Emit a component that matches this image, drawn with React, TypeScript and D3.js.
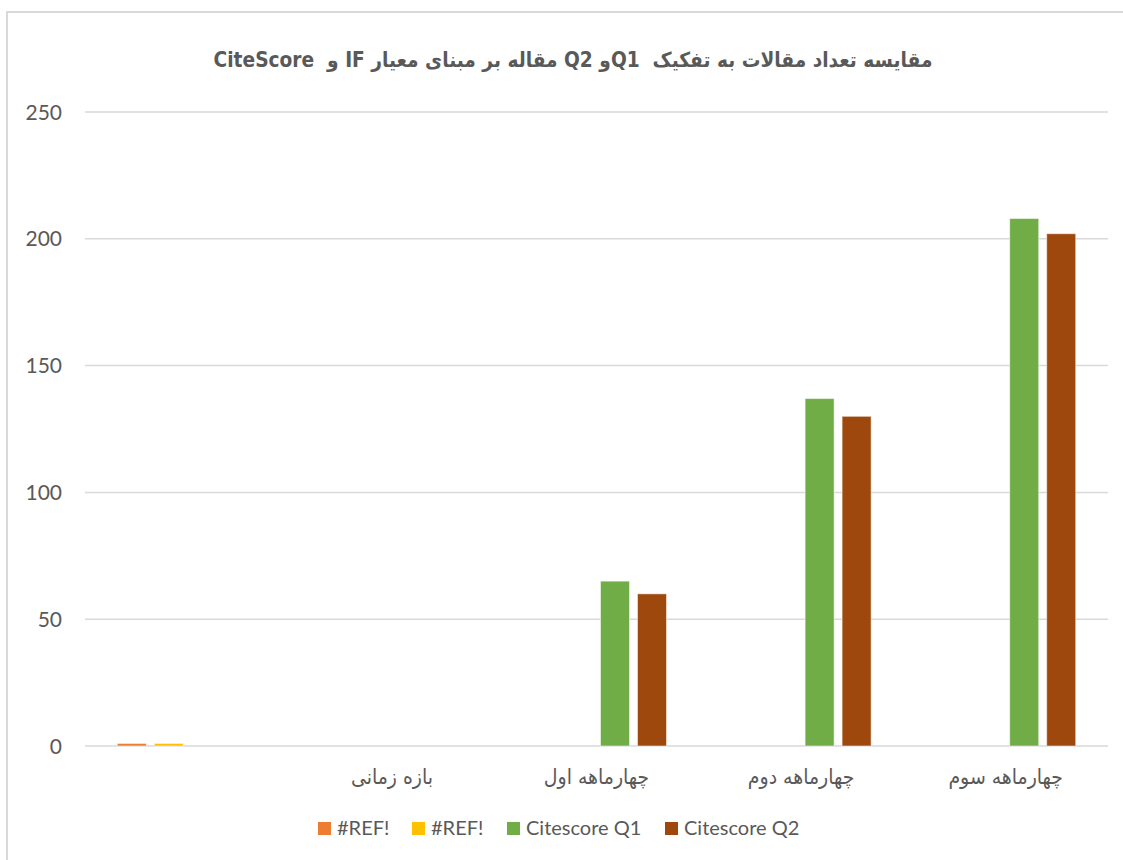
import React from "react";
import * as d3 from "d3";

const categories = ["", "بازه زمانی", "چهارماهه اول", "چهارماهه دوم", "چهارماهه سوم"];
const seriesNames = ["#REF!", "#REF! ", "Citescore Q1", "Citescore Q2"];
const legendLabels = ["#REF!", "#REF!", "Citescore Q1", "Citescore Q2"];
const ref1Values = [1, 0, 0, 0, 0];
const ref2Values = [1, 0, 0, 0, 0];
const q1Values = [0, 0, 65, 137, 208];
const q2Values = [0, 0, 60, 130, 202];
const yTicks = [0, 50, 100, 150, 200, 250];
const colors = ["#ED7D31", "#FFC000", "#70AD47", "#9E480E"];
const title = "مقایسه تعداد مقالات به تفکیک  Q1و Q2 مقاله بر مبنای معیار IF و  CiteScore";

const W = 1123;
const H = 860;
const plot = { left: 85, right: 1108, top: 112, bottom: 746 };

export default function App() {
  const allSeries = [ref1Values, ref2Values, q1Values, q2Values];
  const x = d3.scaleBand<string>().domain(categories.map((c, i) => String(i))).range([plot.left, plot.right]).padding(0);
  const bw = x.bandwidth();
  const groupW = 140;
  const x1 = d3
    .scaleBand<string>()
    .domain(seriesNames)
    .range([(bw - groupW) / 2, (bw + groupW) / 2])
    .paddingInner(8 / 37)
    .paddingOuter(0);
  const y = d3.scaleLinear().domain([0, 250]).range([plot.bottom, plot.top]);

  const textColor = "#595959";
  const font = "Lato, 'Open Sans', sans-serif";
  const arabicFont = "'DejaVu Sans Condensed', 'DejaVu Sans', sans-serif";

  const legendX = [318, 412, 507, 665];

  return (
    <svg width={W} height={H} style={{ position: "absolute", left: 0, top: 0, background: "#fff" }}>
      <rect x={7} y={12} width={W} height={H} fill="#fff" stroke="#d9d9d9" strokeWidth={2} />
      <text
        x={573}
        y={67}
        textAnchor="middle"
        direction="rtl"
        style={{ direction: "rtl", whiteSpace: "pre", fontStretch: "condensed" } as any}
        fontFamily={arabicFont}
        fontWeight="bold"
        fontSize={20.7}
        fill={textColor}
      >
        {title}
      </text>
      {yTicks.map((t) => (
        <g key={t}>
          <line x1={plot.left} x2={plot.right} y1={y(t)} y2={y(t)} stroke="#d9d9d9" strokeWidth={1.5} />
          <text x={62} y={y(t)} dy="0.36em" textAnchor="end" fontFamily={font} fontSize={21} fill={textColor}>
            {t}
          </text>
        </g>
      ))}
      {allSeries.map((vals, si) => (
        <g key={si}>
          {vals.map((v, ci) =>
            v > 0 ? (
              <rect
                key={ci}
                x={(x(String(ci)) as number) + (x1(seriesNames[si]) as number)}
                y={y(v)}
                width={x1.bandwidth()}
                height={y(0) - y(v)}
                fill={colors[si]}
                stroke="#ffffff"
                strokeOpacity={0.5}
                strokeWidth={1}
              />
            ) : null
          )}
        </g>
      ))}
      {categories.map((c, i) => (
        <text
          key={i}
          x={(x(String(i)) as number) + bw / 2}
          y={784}
          textAnchor="middle"
          direction="rtl"
          style={{ direction: "rtl", fontStretch: "condensed" } as any}
          fontFamily={arabicFont}
          fontSize={21}
          fill={textColor}
        >
          {c}
        </text>
      ))}
      {legendLabels.map((l, i) => (
        <g key={i}>
          <rect x={legendX[i]} y={822} width={13} height={13} fill={colors[i]} />
          <text x={legendX[i] + 19} y={835} fontFamily={font} fontSize={20} fill={textColor}>
            {l}
          </text>
        </g>
      ))}
    </svg>
  );
}
